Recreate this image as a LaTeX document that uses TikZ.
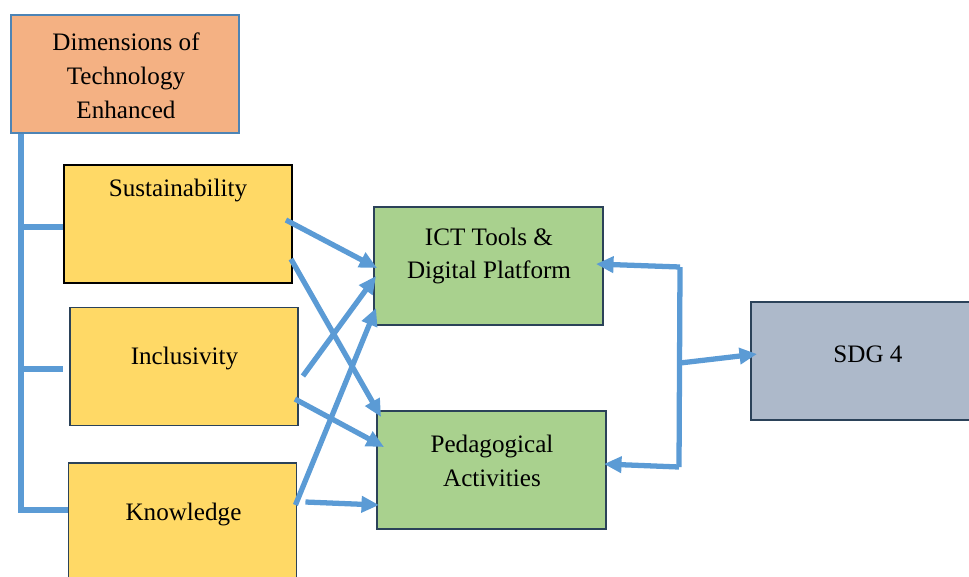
\documentclass[tikz,border=0pt]{standalone}
\usepackage{fontspec}
\setmainfont{Liberation Serif}
\usepackage{tikz}
\usetikzlibrary{positioning, arrows.meta}
\definecolor{linkblue}{HTML}{5B9BD5}
\definecolor{darkedge}{HTML}{2B4259}
\definecolor{dimfill}{HTML}{F4B183}
\definecolor{yellowfill}{HTML}{FFD966}
\definecolor{greenfill}{HTML}{A9D18E}
\definecolor{greyfill}{HTML}{ADB9CA}
\tikzset{
    orangebox/.style={
        rectangle,
        draw=linkblue!85!black, % 边框为蓝色
        fill=dimfill,
        line width=1.1pt,
        minimum width=4.56cm,
        minimum height=2.36cm,
        inner sep=0
    },
    yellowbox/.style={
        rectangle,
        draw=darkedge,
        fill=yellowfill,
        line width=1.1pt,
        minimum width=4.56cm,
        minimum height=2.36cm,
        inner sep=0
    },
    greenbox/.style={
        rectangle,
        draw=darkedge,
        fill=greenfill,
        line width=1.1pt,
        minimum width=4.58cm,
        minimum height=2.36cm,
        inner sep=0
    },
    greybox/.style={
        rectangle,
        draw=darkedge,
        fill=greyfill,
        line width=1.1pt,
        minimum width=4.48cm,
        minimum height=2.36cm,
        inner sep=0
    }
}

\begin{document}
\begin{tikzpicture}[
                x=0.02cm, y=-0.02cm,
                link/.style={draw=linkblue, line width=3pt},
                arrow/.style={link, -{Triangle[length=10pt, width=9pt]}},
                txt/.style={
                    align=center,
                    inner sep=0,
                    font=\fontsize{14.3}{19.3}\selectfont
                }
            ]
            \useasboundingbox (0,0) rectangle (969,576);
            % 方框
            \node[orangebox] (dim) at (125,74) {};
            \node[yellowbox, draw=black] (sust) at (178,224) {};
            \node[yellowbox] (incl) at (184,366.5) {};
            \node[yellowbox] (know) at (182.5,522) {};
            \node[greenbox] (ict) at (488.5,266) {};
            \node[greenbox] (ped) at (491.5,470) {};
            \node[greybox] (sdg) at (863,361) {};
            % 文字
            \node[txt] (dimtxt) at (126,75.5) {Dimensions of\\Technology\\Enhanced};
            \node[txt] (susttxt) at (178,190) {Sustainability};
            \node[txt] (incltxt) at (184.5,358) {Inclusivity};
            \node[txt] (knowtxt) at (183.5,514) {Knowledge};
            \node[txt] (icttxt) at (489,256) {ICT Tools \&\\Digital Platform};
            \node[txt] (pedtxt) at (492,461) {Pedagogical\\Activities};
            \node[txt] (sdgtxt) at (868,354) {SDG 4};
            % 左边的树
            \coordinate (trunk) at ([shift={(11,0)}]dim.south west);
            \draw[link, line width=3.4pt] (trunk) |- ([shift={(0,-12)}]know.west);
            \draw[link, line width=3.4pt] ([shift={(0,3)}]trunk |- sust.west) -- ([shift={(0,3)}]sust.west);
            \draw[link, line width=3.4pt] ([shift={(0,2.5)}]trunk |- incl.west) -- ([shift={(-6,2.5)}]incl.west);
            % 箭头
            \draw[arrow] ([shift={(-7,-4)}]sust.east) -- ([shift={(4,2)}]ict.west);
            \draw[arrow] ([shift={(-2,35)}]sust.east) -- ([shift={(5,-53)}]ped.west);
            \draw[arrow] ([shift={(4,9.5)}]incl.east) -- ([shift={(3,10)}]ict.west);
            \draw[arrow] ([shift={(-4,32.5)}]incl.east) -- ([shift={(8,-23)}]ped.west);
            \draw[arrow] ([shift={(-2,-17)}]know.east) -- ([shift={(3,42)}]ict.west);
            \draw[arrow] ([shift={(8,-20)}]know.east) -- ([shift={(3,35)}]ped.west);
            % 右边的括号
            \coordinate (jtop) at (680,267);
            \coordinate (jmid) at (680,363);
            \coordinate (jbot) at (679,467);
            \draw[link] (jtop) -- (jbot);
            \draw[arrow] (jtop) -- ([shift={(-8,-2)}]ict.east);
            \draw[arrow] (jbot) -- ([shift={(-3,-6)}]ped.east);
            \draw[arrow] (jmid) -- ([shift={(7,-7)}]sdg.west);
\end{tikzpicture}
\end{document}
